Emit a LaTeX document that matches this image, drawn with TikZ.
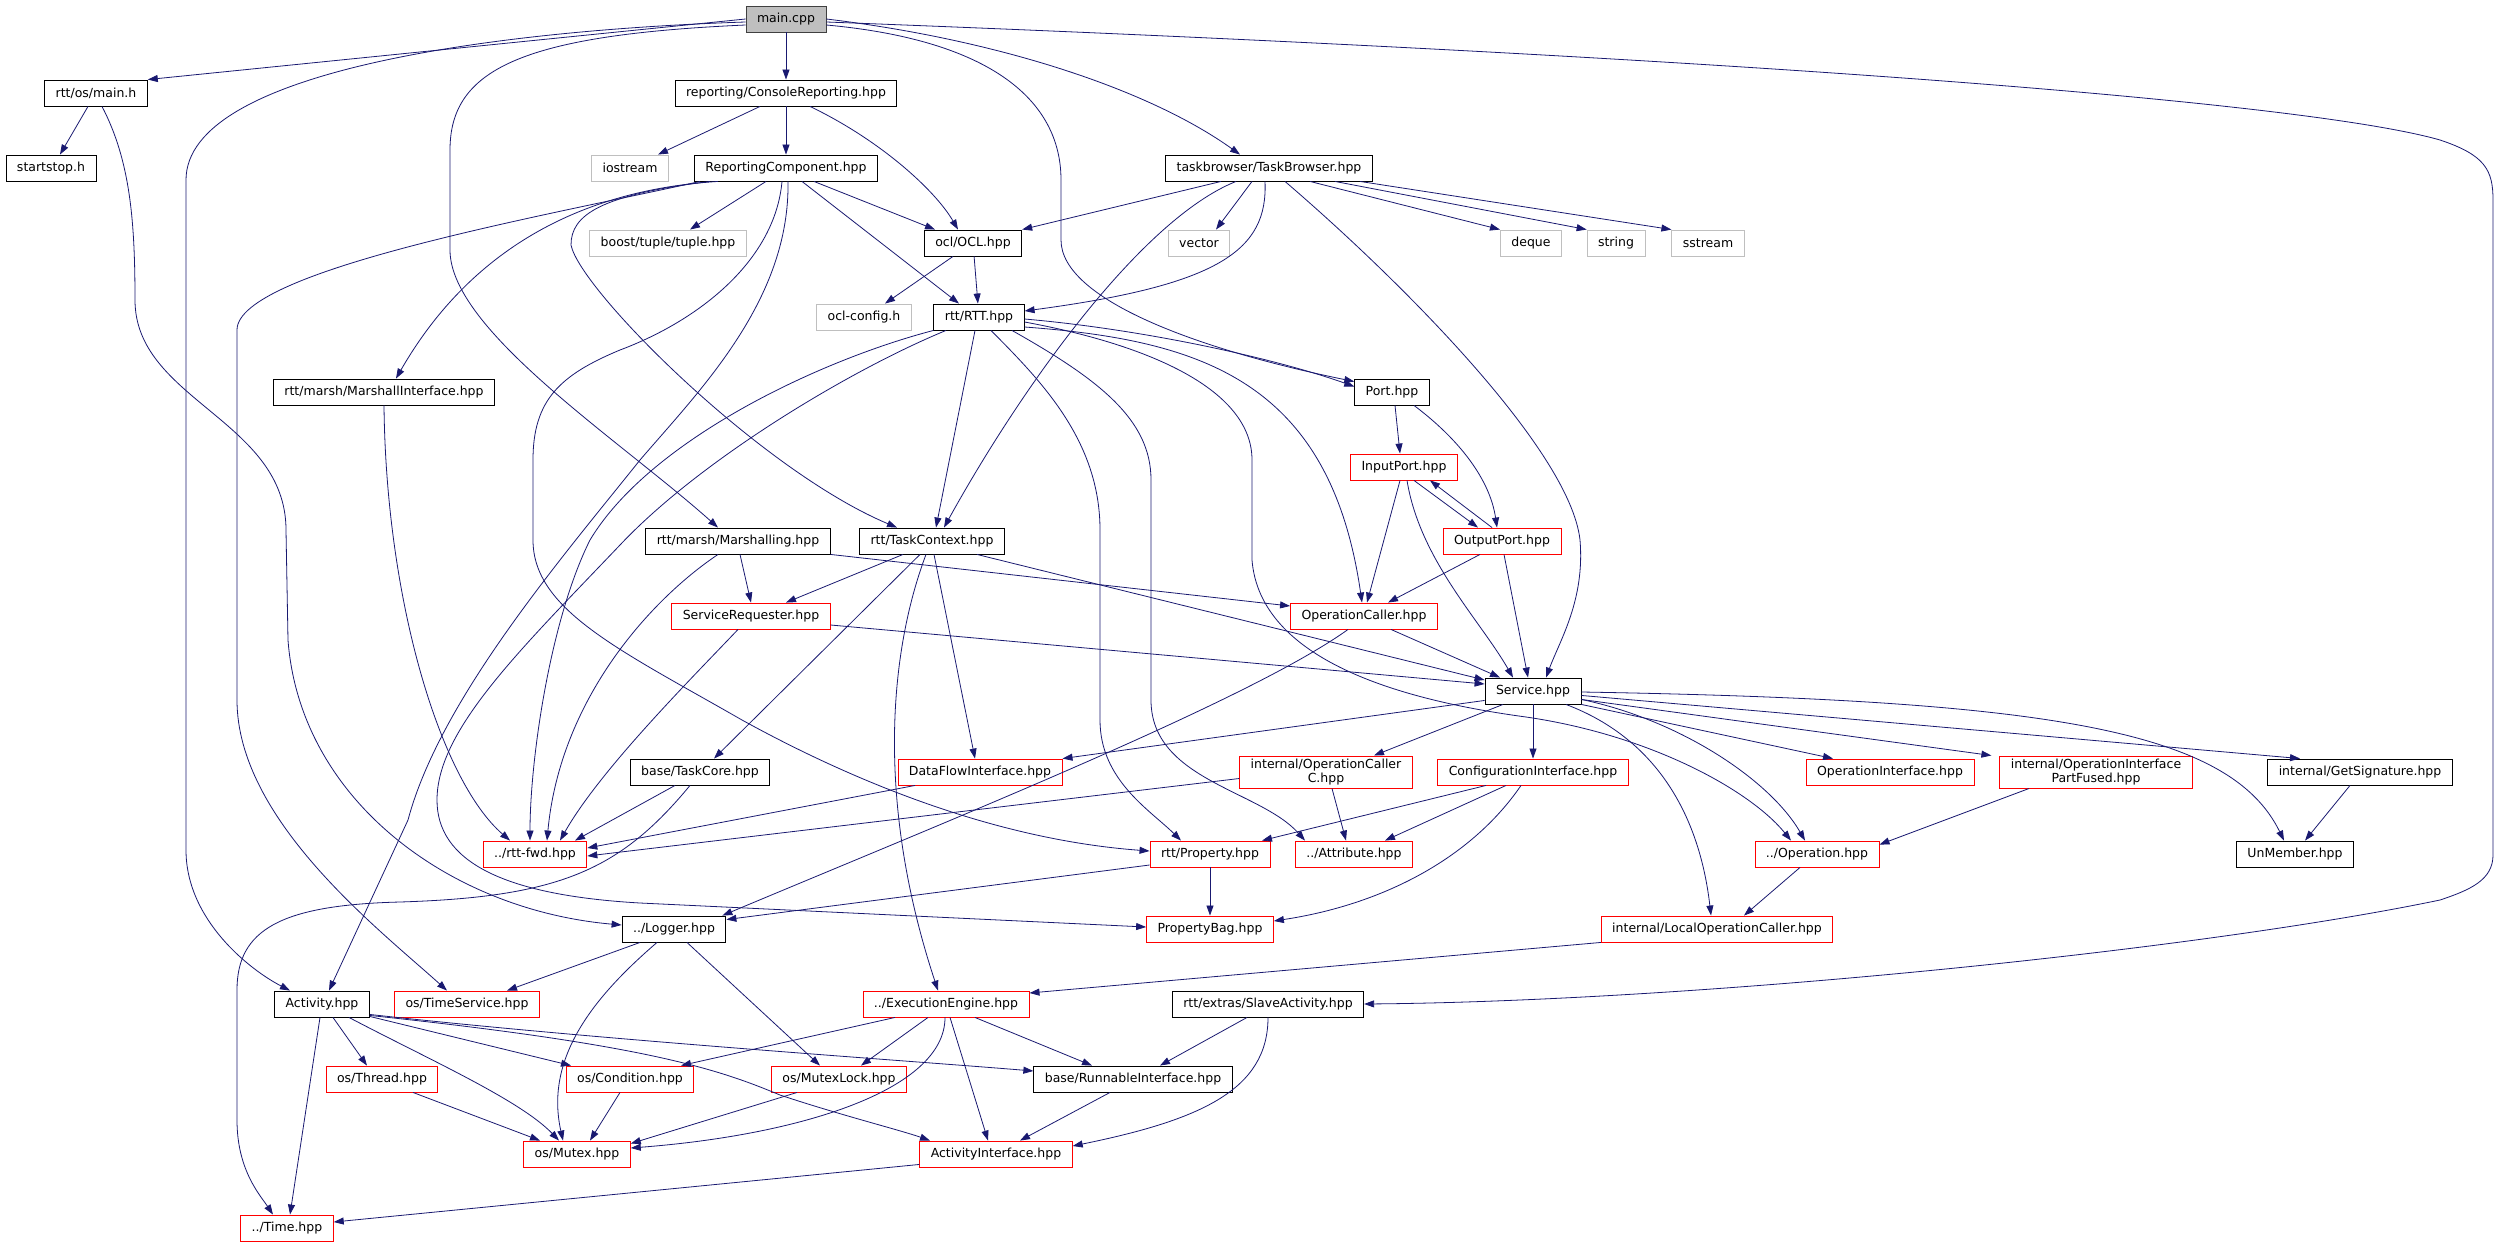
\documentclass[tikz,border=0pt]{standalone}
\usepackage{fontspec}
\setmainfont{DejaVu Sans}
\usetikzlibrary{arrows.meta}
\definecolor{edgeblue}{HTML}{191970}
\definecolor{sysgray}{HTML}{BFBFBF}

\begin{document}
\begin{tikzpicture}[
                x=1pt, y=-1pt,
                font=\fontsize{12.5}{14}\selectfont,
                hdr/.style={draw=black, line width=0.9pt, minimum height=26pt, inner xsep=11pt, inner ysep=3pt, align=center},
                redhdr/.style={hdr, draw=red},
                syshdr/.style={hdr, draw=sysgray},
                line/.style={-{Triangle[length=10pt,width=7pt]}, draw=edgeblue, line width=0.8pt},
            ]
            \useasboundingbox (0,0) rectangle (2497,1247);

            % ----- Files (top to bottom) -----
            \node[hdr, fill=sysgray, draw=black!75] (mainc) at (786,19) {main.cpp};

            \node[hdr] (osmain)  at (96,93)   {rtt/os/main.h};
            \node[hdr] (console) at (786,93)  {reporting/ConsoleReporting.hpp};

            \node[hdr]    (startstop) at (51,168)   {startstop.h};
            \node[syshdr] (iostream)  at (630,168)  {iostream};
            \node[hdr]    (repcomp)   at (786,168)  {ReportingComponent.hpp};
            \node[hdr]    (tbrowser)  at (1269,168) {taskbrowser/TaskBrowser.hpp};

            \node[syshdr] (boosttup) at (668,243)  {boost/tuple/tuple.hpp};
            \node[hdr]    (ocl)      at (973,243)  {ocl/OCL.hpp};
            \node[syshdr] (vector)   at (1199,243) {vector};
            \node[syshdr] (deque)    at (1531,243) {deque};
            \node[syshdr] (strng)    at (1616,243) {string};
            \node[syshdr] (sstream)  at (1708,243) {sstream};

            \node[syshdr] (oclcfg) at (864,317) {ocl-config.h};
            \node[hdr]    (rtt)    at (979,317) {rtt/RTT.hpp};

            \node[hdr] (marshif) at (384,392)  {rtt/marsh/MarshallInterface.hpp};
            \node[hdr] (port)    at (1392,392) {Port.hpp};

            \node[redhdr] (inport) at (1404,467) {InputPort.hpp};

            \node[hdr]    (marsh)   at (738,541)  {rtt/marsh/Marshalling.hpp};
            \node[hdr]    (taskctx) at (932,541)  {rtt/TaskContext.hpp};
            \node[redhdr] (outport) at (1502,541) {OutputPort.hpp};

            \node[redhdr] (servreq)  at (751,616)  {ServiceRequester.hpp};
            \node[redhdr] (opcaller) at (1364,616) {OperationCaller.hpp};

            \node[hdr] (service) at (1533,691) {Service.hpp};

            \node[hdr]    (taskcore)  at (700,772)  {base/TaskCore.hpp};
            \node[redhdr] (dataflow)  at (980,772)  {DataFlowInterface.hpp};
            \node[redhdr] (opcallerc) at (1326,772) {internal/OperationCaller\\C.hpp};
            \node[redhdr] (confif)    at (1533,772) {ConfigurationInterface.hpp};
            \node[redhdr] (opif)      at (1890,772) {OperationInterface.hpp};
            \node[redhdr] (partfused) at (2096,772) {internal/OperationInterface\\PartFused.hpp};
            \node[hdr]    (getsig)    at (2360,772) {internal/GetSignature.hpp};

            \node[redhdr] (rttfwd)    at (535,854)  {../rtt-fwd.hpp};
            \node[redhdr] (property)  at (1210,854) {rtt/Property.hpp};
            \node[redhdr] (attribute) at (1354,854) {../Attribute.hpp};
            \node[redhdr] (operation) at (1817,854) {../Operation.hpp};
            \node[hdr]    (unmember)  at (2295,854) {UnMember.hpp};

            \node[hdr]    (logger)  at (674,929)  {../Logger.hpp};
            \node[redhdr] (propbag) at (1210,929) {PropertyBag.hpp};
            \node[redhdr] (localop) at (1717,929) {internal/LocalOperationCaller.hpp};

            \node[hdr]    (activity) at (322,1004)  {Activity.hpp};
            \node[redhdr] (timesvc)  at (467,1004)  {os/TimeService.hpp};
            \node[redhdr] (execeng)  at (946,1004)  {../ExecutionEngine.hpp};
            \node[hdr]    (slave)    at (1268,1004) {rtt/extras/SlaveActivity.hpp};

            \node[redhdr] (thread)    at (382,1079)  {os/Thread.hpp};
            \node[redhdr] (condition) at (630,1079)  {os/Condition.hpp};
            \node[redhdr] (mutexlock) at (839,1079)  {os/MutexLock.hpp};
            \node[hdr]    (runnable)  at (1133,1079) {base/RunnableInterface.hpp};

            \node[redhdr] (mutex) at (577,1154) {os/Mutex.hpp};
            \node[redhdr] (actif) at (996,1154) {ActivityInterface.hpp};

            \node[redhdr] (timeh) at (287,1228) {../Time.hpp};

            % ----- main.cpp -----
            \draw[line] (mainc.west) -- (osmain.north east);
            \draw[line] (mainc) -- (console);
            \draw[line] (mainc.east) .. controls (1000,40) and (1150,90) .. ([xshift=-29pt]tbrowser.north);
            \draw[line] ([yshift=-3pt]mainc.east) .. controls (1700,55) and (2300,100) .. (2440,140) .. controls (2485,155) and (2493,170) .. (2493,200) -- (2493,855) .. controls (2493,880) and (2470,890) .. (2440,900) .. controls (2200,950) and (1700,1001) .. (slave.east);
            \draw[line] ([yshift=-3pt]mainc.west) .. controls (500,30) and (186,70) .. (186,180) -- (186,850) .. controls (186,920) and (250,970) .. ([xshift=-32pt]activity.north);
            \draw[line] ([yshift=-6pt]mainc.west) .. controls (520,35) and (450,70) .. (450,150) -- (450,250) .. controls (450,330) and (620,440) .. ([xshift=-20pt]marsh.north);
            \draw[line] ([yshift=-6pt]mainc.east) .. controls (990,40) and (1061,100) .. (1061,180) -- (1061,240) .. controls (1061,300) and (1200,350) .. ([yshift=-3pt]port.north west);

            % ----- rtt/os/main.h -----
            \draw[line] ([xshift=-8pt]osmain.south) -- ([xshift=9pt]startstop.north);
            \draw[line] ([xshift=6pt]osmain.south) .. controls (130,160) and (135,220) .. (135,300) .. controls (135,400) and (286,420) .. (286,530) -- (288,640) .. controls (300,800) and (450,910) .. ([yshift=4pt]logger.west);

            % ----- ConsoleReporting -----
            \draw[line] ([xshift=-26pt]console.south) -- ([xshift=28pt]iostream.north);
            \draw[line] (console) -- (repcomp);
            \draw[line] ([xshift=24pt]console.south) .. controls (880,140) and (935,190) .. ([xshift=-15pt]ocl.north);

            % ----- ReportingComponent -----
            \draw[line] ([xshift=-20pt]repcomp.south) -- ([xshift=22pt]boosttup.north);
            \draw[line] ([xshift=28pt]repcomp.south) -- ([xshift=-38pt]ocl.north);
            \draw[line] ([xshift=16pt]repcomp.south) -- ([xshift=-20pt]rtt.north);
            \draw[line] ([xshift=-68pt]repcomp.south) .. controls (580,190) and (470,250) .. ([xshift=12pt]marshif.north);
            \draw[line] ([xshift=-76pt]repcomp.south) .. controls (600,195) and (571,215) .. (571,245) .. controls (580,290) and (760,470) .. ([xshift=-35pt]taskctx.north);
            \draw[line] ([xshift=-86pt]repcomp.south) .. controls (550,215) and (237,270) .. (237,330) -- (237,700) .. controls (237,820) and (380,930) .. ([xshift=-20pt]timesvc.north);
            \draw[line] ([xshift=2pt]repcomp.south) .. controls (790,300) and (700,390) .. (640,460) .. controls (560,560) and (440,700) .. (408,820) -- ([xshift=7pt]activity.north);
            \draw[line] ([xshift=-4pt]repcomp.south) .. controls (775,260) and (700,320) .. (620,350) .. controls (560,375) and (533,400) .. (533,460) -- (533,540) .. controls (533,610) and (620,650) .. (742,720) .. controls (860,785) and (1000,840) .. ([yshift=3pt]property.west);

            % ----- TaskBrowser -----
            \draw[line] ([xshift=-48pt]tbrowser.south) -- (ocl.north east);
            \draw[line] ([xshift=-17pt]tbrowser.south) -- ([xshift=17pt]vector.north);
            \draw[line] ([xshift=41pt]tbrowser.south) -- (deque.north west);
            \draw[line] ([xshift=66pt]tbrowser.south) -- (strng.north west);
            \draw[line] ([xshift=91pt]tbrowser.south) -- (sstream.north west);
            \draw[line] ([xshift=-4pt]tbrowser.south) .. controls (1268,250) and (1220,285) .. ([yshift=6pt]rtt.east);
            \draw[line] ([xshift=-33pt]tbrowser.south) .. controls (1140,220) and (1020,390) .. ([xshift=12pt]taskctx.north);
            \draw[line] ([xshift=16pt]tbrowser.south) .. controls (1400,280) and (1570,450) .. (1580,540) .. controls (1585,600) and (1560,640) .. ([xshift=13pt]service.north);

            % ----- OCL -----
            \draw[line] ([xshift=-20pt]ocl.south) -- ([xshift=21pt]oclcfg.north);
            \draw[line] (ocl) -- (rtt);

            % ----- RTT -----
            \draw[line] (rtt.south west) .. controls (820,360) and (650,440) .. (590,540) .. controls (550,620) and (530,760) .. ([xshift=-5pt]rttfwd.north);
            \draw[line] ([xshift=-33pt]rtt.south) .. controls (850,370) and (700,460) .. (620,545) .. controls (520,650) and (437,730) .. (437,800) .. controls (437,860) and (500,895) .. (640,903) -- ([yshift=2pt]propbag.west);
            \draw[line] ([xshift=-4pt]rtt.south) -- ([xshift=4pt]taskctx.north);
            \draw[line] ([xshift=12pt]rtt.south) .. controls (1040,380) and (1100,440) .. (1100,530) -- (1100,720) .. controls (1100,780) and (1150,810) .. ([xshift=-29pt]property.north);
            \draw[line] ([xshift=33pt]rtt.south) .. controls (1100,380) and (1151,420) .. (1151,480) -- (1151,700) .. controls (1151,780) and (1260,790) .. ([xshift=-49pt]attribute.north);
            \draw[line] ([yshift=-5pt]rtt.east) .. controls (1150,345) and (1252,390) .. (1252,460) -- (1252,560) .. controls (1260,660) and (1400,700) .. (1526,717) .. controls (1650,735) and (1750,790) .. ([xshift=-26pt]operation.north);
            \draw[line] ([yshift=-2pt]rtt.east) .. controls (1150,330) and (1280,360) .. ([yshift=-8pt]port.north west);
            \draw[line] ([yshift=-10pt]rtt.east) .. controls (1200,340) and (1330,380) .. ([xshift=-2pt]opcaller.north);

            % ----- Port, InputPort, OutputPort -----
            \draw[line] ([xshift=3pt]port.south) -- ([xshift=-4pt]inport.north);
            \draw[line] ([xshift=22pt]port.south) .. controls (1460,440) and (1490,480) .. ([xshift=-5pt]outport.north);
            \draw[line] ([xshift=10pt]inport.south) -- ([xshift=-24pt]outport.north);
            \draw[line] ([xshift=-10pt]outport.north) -- ([xshift=26pt]inport.south);
            \draw[line] ([xshift=-4pt]inport.south) -- ([xshift=3pt]opcaller.north);
            \draw[line] ([xshift=3pt]inport.south) .. controls (1420,560) and (1480,620) .. ([xshift=-20pt]service.north);
            \draw[line] ([xshift=-22pt]outport.south) -- ([xshift=24pt]opcaller.north);
            \draw[line] ([xshift=2pt]outport.south) -- ([xshift=-5pt]service.north);

            % ----- Marshalling, MarshallInterface -----
            \draw[line] ([xshift=2pt]marsh.south) -- (servreq.north);
            \draw[line] (marsh.south east) -- ([yshift=10pt]opcaller.west);
            \draw[line] ([xshift=-20pt]marsh.south) .. controls (650,600) and (560,700) .. ([xshift=12pt]rttfwd.north);
            \draw[line] (marshif.south) .. controls (386,600) and (440,780) .. ([xshift=-25pt]rttfwd.north);

            % ----- TaskContext -----
            \draw[line] ([xshift=-29pt]taskctx.south) -- ([xshift=35pt]servreq.north);
            \draw[line] ([xshift=45pt]taskctx.south) -- ([yshift=11pt]service.west);
            \draw[line] ([xshift=-12pt]taskctx.south) -- ([xshift=14pt]taskcore.north);
            \draw[line] ([xshift=2pt]taskctx.south) -- ([xshift=-5pt]dataflow.north);
            \draw[line] ([xshift=-6pt]taskctx.south) .. controls (890,650) and (875,800) .. ([xshift=-8pt]execeng.north);

            % ----- ServiceRequester, OperationCaller -----
            \draw[line] ([yshift=-9pt]servreq.east) -- ([yshift=7pt]service.west);
            \draw[line] ([xshift=-13pt]servreq.south) .. controls (690,680) and (600,770) .. ([xshift=25pt]rttfwd.north);
            \draw[line] ([xshift=27pt]opcaller.south) -- ([xshift=-33pt]service.north);
            \draw[line] ([xshift=-16pt]opcaller.south) .. controls (1250,700) and (950,820) .. ([xshift=-4pt]logger.north east);

            % ----- Service -----
            \draw[line] ([yshift=4pt]service.south west) -- (dataflow.north east);
            \draw[line] ([xshift=-30pt]service.south) -- ([xshift=48pt]opcallerc.north);
            \draw[line] (service) -- (confif);
            \draw[line] (service.south east) -- ([xshift=-57pt]opif.north);
            \draw[line] ([yshift=5pt]service.south east) -- ([xshift=-8pt]partfused.north west);
            \draw[line] ([yshift=9pt]service.south east) -- ([xshift=-60pt]getsig.north);
            \draw[line] ([yshift=-1pt]service.east) .. controls (2050,700) and (2230,730) .. ([xshift=-11pt]unmember.north);
            \draw[line] ([yshift=5pt]service.south east) .. controls (1680,720) and (1770,780) .. ([xshift=-12pt]operation.north);
            \draw[line] ([xshift=33pt]service.south) .. controls (1660,740) and (1700,820) .. ([xshift=-6pt]localop.north);

            % ----- second level -----
            \draw[line] ([xshift=-25pt]taskcore.south) -- ([xshift=40pt]rttfwd.north);
            \draw[line] ([xshift=-10pt]taskcore.south) .. controls (620,870) and (560,897) .. (400,902) .. controls (280,905) and (237,930) .. (237,990) -- (237,1120) .. controls (237,1170) and (260,1195) .. ([xshift=-14pt]timeh.north);
            \draw[line] ([xshift=-65pt]dataflow.south) -- ([yshift=6pt]rttfwd.east);
            \draw[line] ([yshift=10pt]opcallerc.south west) -- ([yshift=-2pt]rttfwd.east);
            \draw[line] ([xshift=6pt]opcallerc.south) -- ([xshift=-8pt]attribute.north);
            \draw[line] ([xshift=-47pt]confif.south) -- ([xshift=52pt]property.north);
            \draw[line] ([xshift=-27pt]confif.south) -- ([xshift=31pt]attribute.north);
            \draw[line] ([xshift=-12pt]confif.south) .. controls (1470,860) and (1380,905) .. ([yshift=8pt]propbag.east);
            \draw[line] ([xshift=-67pt]partfused.south) -- ([yshift=-4pt]operation.north east);
            \draw[line] ([xshift=-10pt]getsig.south) -- ([xshift=10pt]unmember.north);
            \draw[line] ([xshift=-17pt]operation.south) -- ([xshift=27pt]localop.north);
            \draw[line] (property) -- (propbag);
            \draw[line] ([yshift=-11pt]property.west) -- ([yshift=-4pt]logger.north east);
            \draw[line] (localop.south west) -- ([yshift=11pt]execeng.east);

            % ----- Logger, Activity -----
            \draw[line] ([xshift=-34pt]logger.south) -- ([xshift=40pt]timesvc.north);
            \draw[line] ([xshift=-17pt]logger.south) .. controls (590,1000) and (545,1060) .. ([xshift=-14pt]mutex.north);
            \draw[line] ([xshift=13pt]logger.south) -- ([xshift=-19pt]mutexlock.north);
            \draw[line] ([xshift=-2pt]activity.south) -- ([xshift=3pt]timeh.north);
            \draw[line] ([xshift=11pt]activity.south) -- ([xshift=-15pt]thread.north);
            \draw[line] ([xshift=27pt]activity.south) .. controls (430,1060) and (520,1100) .. ([xshift=-18pt]mutex.north);
            \draw[line] ([yshift=1pt]activity.south east) -- ([xshift=-59pt]condition.north);
            \draw[line] ([yshift=3pt]activity.south east) .. controls (600,1040) and (900,1060) .. ([yshift=8pt]runnable.west);
            \draw[line] ([yshift=2pt]activity.south east) .. controls (650,1045) and (720,1070) .. (780,1095) .. controls (840,1115) and (900,1130) .. ([xshift=-66pt]actif.north);

            % ----- ExecutionEngine, SlaveActivity -----
            \draw[line] ([xshift=-51pt]execeng.south) -- ([xshift=51pt]condition.north);
            \draw[line] ([xshift=-18pt]execeng.south) -- ([xshift=22pt]mutexlock.north);
            \draw[line] ([xshift=-1pt]execeng.south) .. controls (945,1090) and (800,1135) .. ([yshift=6pt]mutex.east);
            \draw[line] ([xshift=4pt]execeng.south) -- ([xshift=-8pt]actif.north);
            \draw[line] ([xshift=29pt]execeng.south) -- ([xshift=-41pt]runnable.north);
            \draw[line] ([xshift=-21pt]slave.south) -- ([xshift=27pt]runnable.north);
            \draw[line] (slave.south) .. controls (1268,1090) and (1200,1120) .. ([yshift=8pt]actif.east);

            % ----- bottom row -----
            \draw[line] ([xshift=31pt]thread.south) -- ([xshift=-37pt]mutex.north);
            \draw[line] ([xshift=-10pt]condition.south) -- ([xshift=13pt]mutex.north);
            \draw[line] ([xshift=-42pt]mutexlock.south) -- ([yshift=-3pt]mutex.north east);
            \draw[line] ([xshift=-23pt]runnable.south) -- ([xshift=24pt]actif.north);
            \draw[line] ([yshift=3pt]actif.south west) -- ([yshift=6pt]timeh.east);

            \end{tikzpicture}
\end{document}
